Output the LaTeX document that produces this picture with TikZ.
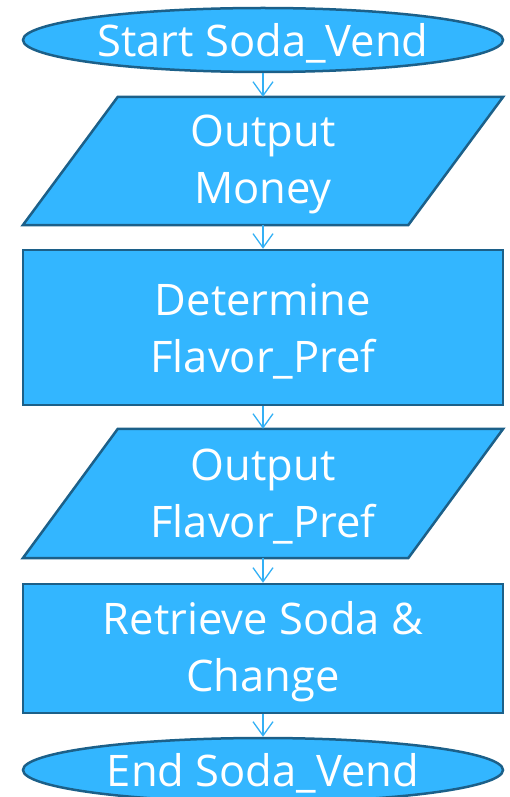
\documentclass[tikz,border=0pt]{standalone}
\usepackage{fontspec}
\setmainfont{Open Sans}
\usetikzlibrary{shapes.geometric,arrows.meta}
\definecolor{fillblue}{HTML}{33B6FF}
\definecolor{edgeblue}{HTML}{1C6089}
\definecolor{arrowblue}{HTML}{33B0F5}
\begin{document}
\begin{tikzpicture}[x=1pt,y=1pt,
  txt/.style={text=white,font=\fontsize{43.5}{57}\selectfont,align=center,inner sep=0pt,yshift=-3.5pt},
  term/.style={ellipse,draw=edgeblue,fill=fillblue,line width=2.5pt,minimum width=480pt,minimum height=64pt},
  procbox/.style={rectangle,draw=edgeblue,fill=fillblue,line width=2.5pt,minimum width=480pt},
  iobox/.style={rectangle,minimum width=480pt},
  ioshape/.style={draw=edgeblue,fill=fillblue,line width=2.5pt,line join=miter},
  flow/.style={draw=arrowblue,line width=1.3pt,-{Straight Barb[length=14pt,width=20pt]}}
]
\useasboundingbox (0,0) rectangle (510,-797);
\node[term] (start) at (263,-40) {};
\node[txt] (startt) at (start.center) {Start Soda\_Vend};
% parallelogram 1
\node[iobox,minimum height=128pt] (out1) at (263,-161) {};
\path[ioshape] (out1.south west) -- ([xshift=-95pt]out1.south east) -- (out1.north east) -- ([xshift=95pt]out1.north west) -- cycle;
\node[txt] (out1t) at (out1.center) {Output\\Money};
\node[procbox,minimum height=155pt] (det) at (263,-327.5) {};
\node[txt] (dett) at (det.center) {Determine\\Flavor\_Pref};
% parallelogram 2
\node[iobox,minimum height=129pt] (out2) at (263,-493.5) {};
\path[ioshape] (out2.south west) -- ([xshift=-95pt]out2.south east) -- (out2.north east) -- ([xshift=95pt]out2.north west) -- cycle;
\node[txt] (out2t) at (out2.center) {Output\\Flavor\_Pref};
\node[procbox,minimum height=129pt] (ret) at (263,-648.5) {};
\node[txt] (rett) at (ret.center) {Retrieve Soda \&\\Change};
\node[term] (stop) at (263,-770) {};
\node[txt] (stopt) at (stop.center) {End Soda\_Vend};
\draw[flow] (start.south) -- (out1.north);
\draw[flow] (out1.south) -- (det.north);
\draw[flow] (det.south) -- (out2.north);
\draw[flow] (out2.south) -- (ret.north);
\draw[flow] (ret.south) -- (stop.north);
\end{tikzpicture}
\end{document}
